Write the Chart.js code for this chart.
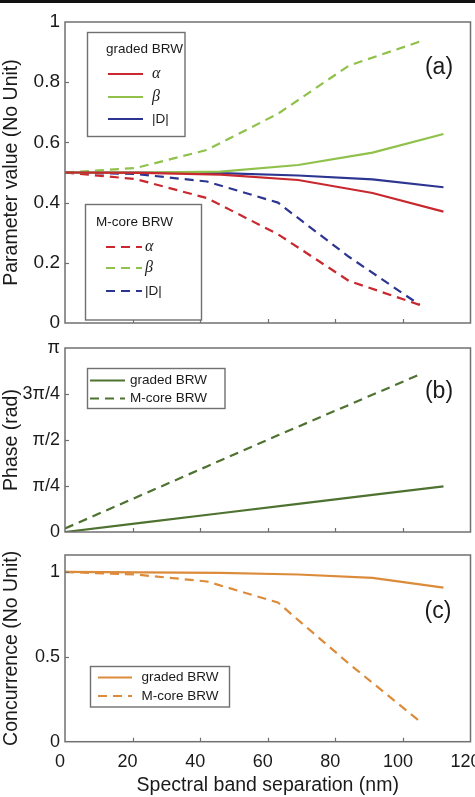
<!DOCTYPE html>
<html><head><meta charset="utf-8">
<script src="https://cdn.jsdelivr.net/npm/chart.js@4.4.0/dist/chart.umd.min.js"></script>
<style>
html,body{margin:0;padding:0;background:#fff;}
#wrap{position:relative;width:475px;height:797px;overflow:hidden;background:#fff;}
#topbar{position:absolute;left:0;top:0;width:475px;height:3px;background:#111;}
canvas{position:absolute;left:0;}
</style></head><body>
<div id="wrap">
<canvas id="cA" width="475" height="335" style="top:0px"></canvas>
<canvas id="cB" width="475" height="210" style="top:335px"></canvas>
<canvas id="cC" width="475" height="252" style="top:545px"></canvas>
<div id="topbar"></div>
</div>
<script>
// ---------- data ----------
const xGraded = [0, 23, 46, 69, 91, 112];
const xMcore  = [0, 21, 42, 63, 84, 105];

const alphaGraded = [0.5, 0.499, 0.493, 0.475, 0.432, 0.370];
const betaGraded  = [0.5, 0.500, 0.503, 0.525, 0.566, 0.628];
const dGraded     = [0.5, 0.500, 0.498, 0.490, 0.477, 0.451];
const alphaMcore  = [0.5, 0.478, 0.415, 0.295, 0.140, 0.060];
const betaMcore   = [0.5, 0.515, 0.575, 0.695, 0.855, 0.935];
const dMcore      = [0.5, 0.495, 0.470, 0.400, 0.220, 0.060];

const phaseGraded = [0, 0.16, 0.32, 0.48, 0.635, 0.78];
const phaseMcore  = [0.06, 0.59, 1.12, 1.65, 2.17, 2.69];

const concGraded = [1.0, 0.998, 0.995, 0.985, 0.965, 0.908];
const concMcore  = [1.0, 0.985, 0.944, 0.820, 0.460, 0.120];

const paramTickValues = [0, 0.2, 0.4, 0.6, 0.8, 1];
const paramTickLabels = ['0', '0.2', '0.4', '0.6', '0.8', '1'];
const phaseTickValues = [0, Math.PI/4, Math.PI/2, 3*Math.PI/4, Math.PI];
const phaseTickLabels = ['0', 'π/4', 'π/2', '3π/4', 'π'];
const concTickValues = [0, 0.5, 1];
const concTickLabels = ['0', '0.5', '1'];

const xTitle = 'Spectral band separation (nm)';
// ---------- style ----------
const FONT = '"Liberation Sans", Arial, sans-serif';
const TXT = '#1a1a1a';
const BOXC = '#707070';
const RED = '#c8282e', GREEN = '#8fc14b', BLUE = '#2c3590', OLIVE = '#4e7230', ORANGE = '#dc8b3b';
const DASH = [9, 6];
const LW = 2.2;

function pts(xs, ys){ return xs.map((x,i)=>({x:x, y:ys[i]})); }
function ds(label, xs, ys, color, dashed){
  return {label, data: pts(xs, ys), borderColor: color, backgroundColor: color,
    borderWidth: LW, borderDash: dashed ? DASH : [], pointRadius: 0, tension: 0, fill: false};
}

function xScale(showLabels, axisHeight){
  return {
    type:'linear', min:0, max:120,
    ticks:{stepSize:20, display:showLabels, font:{family:FONT,size:18}, color:TXT, padding:10, labelOffset:-5, maxRotation:0, autoSkip:false},
    grid:{display:false, drawTicks:false}, border:{display:false},
    title: showLabels ? {display:true, text:xTitle, font:{family:FONT,size:19.5}, color:TXT, padding:{top:0,bottom:0}} : {display:false},
    afterFit(s){ s.height = axisHeight; s.paddingLeft = 0; s.paddingRight = 0; }
  };
}
function yScale(min, max, vals, labels, title, size){
  return {
    type:'linear', min, max,
    afterBuildTicks(s){ s.ticks = vals.map(v=>({value:v})); },
    ticks:{callback:(v,i)=>labels[i], font:{family:FONT,size}, color:TXT, padding:5, autoSkip:false},
    grid:{display:false, drawTicks:false}, border:{display:false},
    title:{display:true, text:title, font:{family:FONT,size:19.5}, color:TXT, padding:{top:0,bottom:0}},
    afterFit(s){ s.width = 65; s.paddingTop = 0; s.paddingBottom = 0; }
  };
}

function decor(cfg){
  return {
    id:'decor',
    afterDraw(chart){
      const ctx = chart.ctx, a = chart.chartArea;
      const xs = chart.scales.x, ys = chart.scales.y;
      ctx.save();
      // inward ticks
      ctx.strokeStyle = BOXC; ctx.lineWidth = 1.2;
      xs.ticks.forEach(t=>{
        if (t.value <= xs.min || t.value >= xs.max) return;
        const p = Math.round(xs.getPixelForValue(t.value)) + 0.5;
        ctx.beginPath(); ctx.moveTo(p, a.bottom); ctx.lineTo(p, a.bottom - 4); ctx.stroke();
      });
      ys.ticks.forEach(t=>{
        if (t.value <= ys.min || t.value >= ys.max) return;
        const p = Math.round(ys.getPixelForValue(t.value)) + 0.5;
        ctx.beginPath(); ctx.moveTo(a.left, p); ctx.lineTo(a.left + 4, p); ctx.stroke();
      });
      // frame
      ctx.lineWidth = 1.5; ctx.strokeStyle = BOXC;
      ctx.strokeRect(a.left, a.top, a.right - a.left, a.bottom - a.top);
      // legends
      (cfg.legends || []).forEach(L=>{
        ctx.fillStyle = '#fff';
        ctx.fillRect(L.x, L.y, L.w, L.h);
        ctx.lineWidth = 1.4; ctx.strokeStyle = BOXC;
        ctx.setLineDash([]);
        ctx.strokeRect(L.x, L.y, L.w, L.h);
        ctx.textBaseline = 'middle'; ctx.textAlign = 'left';
        if (L.title){
          ctx.fillStyle = TXT; ctx.font = '13.5px ' + FONT;
          ctx.fillText(L.title, L.tx0, L.ty);
        }
        L.items.forEach(it=>{
          const d = chart.data.datasets[it.ds];
          ctx.strokeStyle = d.borderColor; ctx.lineWidth = d.borderWidth;
          ctx.setLineDash(d.borderDash || []);
          ctx.beginPath(); ctx.moveTo(L.lx1, it.y); ctx.lineTo(L.lx2, it.y); ctx.stroke();
          ctx.setLineDash([]);
          const lab = L.labels ? L.labels[it.ds] : d.label;
          if (lab === 'α' || lab === 'β') ctx.font = 'italic 16px "Liberation Serif", serif';
          else ctx.font = '13.5px ' + FONT;
          ctx.fillStyle = TXT;
          ctx.fillText(lab, L.tx, it.y);
        });
      });
      // panel label
      ctx.fillStyle = TXT; ctx.font = '23px ' + FONT;
      ctx.textAlign = 'center'; ctx.textBaseline = 'middle';
      ctx.fillText(cfg.tag, cfg.tagX, cfg.tagY);
      ctx.restore();
    }
  };
}

function make(id, datasets, scales, padTop, plugin){
  return new Chart(document.getElementById(id), {
    type:'line',
    data:{datasets},
    options:{
      responsive:false, animation:false, events:[],
      layout:{padding:{top:padTop, right:4.5, left:0, bottom:0}},
      plugins:{legend:{display:false}, tooltip:{enabled:false}},
      scales
    },
    plugins:[plugin]
  });
}

// ---------- panel (a) ----------
make('cA', [
  ds('α', xGraded, alphaGraded, RED, false),
  ds('β', xGraded, betaGraded, GREEN, false),
  ds('|D|', xGraded, dGraded, BLUE, false),
  ds('α', xMcore, alphaMcore, RED, true),
  ds('β', xMcore, betaMcore, GREEN, true),
  ds('|D|', xMcore, dMcore, BLUE, true)
], {
  x: xScale(false, 12),
  y: yScale(0, 1, paramTickValues, paramTickLabels, 'Parameter value (No Unit)', 19)
}, 22, decor({
  tag:'(a)', tagX:439, tagY:68,
  legends:[
    {x:87.5, y:32.5, w:97.5, h:104, title:'graded BRW', tx0:106, ty:49.5, lx1:108, lx2:143, tx:152,
     items:[{ds:0,y:74},{ds:1,y:97},{ds:2,y:119}]},
    {x:85.5, y:204.5, w:116, h:115.5, title:'M-core BRW', tx0:96, ty:222, lx1:106, lx2:142, tx:145,
     items:[{ds:3,y:247},{ds:4,y:268},{ds:5,y:291}]}
  ]
}));

// ---------- panel (b) ----------
make('cB', [
  ds('graded BRW', xGraded, phaseGraded, OLIVE, false),
  ds('M-core BRW', xMcore, phaseMcore, OLIVE, true)
], {
  x: xScale(false, 13),
  y: yScale(0, Math.PI, phaseTickValues, phaseTickLabels, 'Phase (rad)', 18)
}, 13, decor({
  tag:'(b)', tagX:439, tagY:57,
  legends:[
    {x:87.5, y:33.5, w:137.5, h:40, lx1:90, lx2:125, tx:130,
     items:[{ds:0,y:45.5},{ds:1,y:63.5}]}
  ]
}));

// ---------- panel (c) ----------
make('cC', [
  ds('graded BRW', xGraded, concGraded, ORANGE, false),
  ds('M-core BRW', xMcore, concMcore, ORANGE, true)
], {
  x: xScale(true, 55.3),
  y: yScale(0, 1.1, concTickValues, concTickLabels, 'Concurrence (No Unit)', 18)
}, 10, decor({
  tag:'(c)', tagX:438, tagY:67,
  legends:[
    {x:90.5, y:121.5, w:139, h:40.5, lx1:98, lx2:132, tx:141.5,
     items:[{ds:0,y:132.5},{ds:1,y:151}]}
  ]
}));
</script>
</body></html>
